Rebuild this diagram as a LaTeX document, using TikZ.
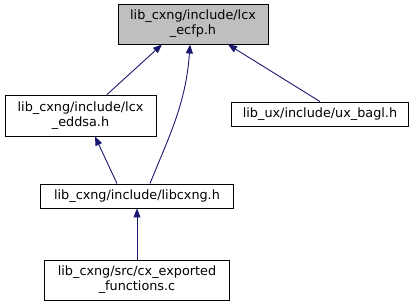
\documentclass[tikz,border=0pt]{standalone}
\usepackage{fontspec}
\setmainfont{DejaVu Sans}
\usepackage{xcolor}
\usepackage{tikz}
\usetikzlibrary{positioning,calc,arrows.meta}
\definecolor{EdgeBlue}{RGB}{25,25,112}
\definecolor{FocusGray}{RGB}{191,191,191}
\tikzset{
    filenode/.style={rectangle, draw=black, fill=white, line width=0.9pt, inner sep=0pt, align=center, font=\fontsize{12.8}{15}\selectfont},
    edge/.style={draw=EdgeBlue, line width=0.9pt, -{Triangle[length=9pt,width=7pt]}}
}

\begin{document}
\begin{tikzpicture}[
                x=1pt, y=-1pt,
                % focus file: grey box
                focusnode/.style={
                    filenode,
                    fill=FocusGray
                }
            ]
                \useasboundingbox (0,0) rectangle (415,305);

                % 1. FILE NODES
                \node[focusnode, minimum width=150pt, minimum height=40pt] (ecfp) at (193,24) {lib\_cxng/include/lcx\\\_ecfp.h};
                \node[filenode, minimum width=151pt, minimum height=41pt] (eddsa) at (80.5,115.5) {lib\_cxng/include/lcx\\\_eddsa.h};
                \node[filenode, minimum width=177pt, minimum height=24pt] (bagl) at (320,114) {lib\_ux/include/ux\_bagl.h};
                \node[filenode, minimum width=193pt, minimum height=24pt] (libcxng) at (137,196) {lib\_cxng/include/libcxng.h};
                \node[filenode, minimum width=185pt, minimum height=40pt] (exported) at (137,280) {lib\_cxng/src/cx\_exported\\\_functions.c};

                % 2. INCLUDE EDGES (arrow points to the included file)
                \draw[edge] ($(eddsa.north)+(26.5,0)$) -- ($(ecfp.south)+(-31,0)$);
                \draw[edge] ($(libcxng.north)+(13,0)$) .. controls +(18,-45) and +(-4,60) .. ($(ecfp.south)+(-3,0)$);
                \draw[edge] (bagl.north) -- ($(ecfp.south)+(35,0)$);
                \draw[edge] ($(libcxng.north)+(-20,0)$) -- ($(eddsa.south)+(14.5,0)$);
                \draw[edge] (exported) -- (libcxng);

            \end{tikzpicture}
\end{document}
